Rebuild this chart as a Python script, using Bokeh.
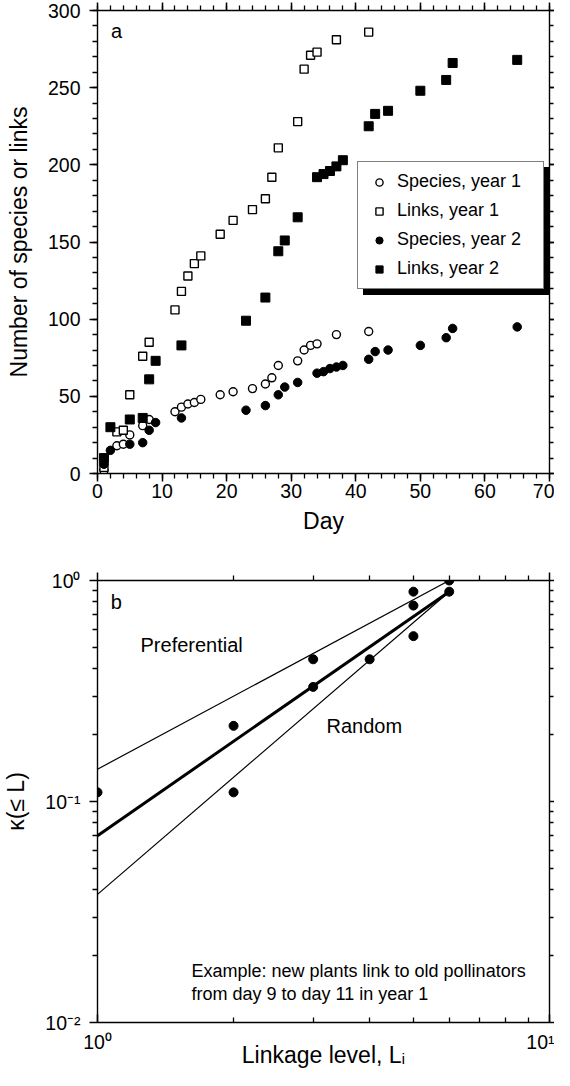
from bokeh.plotting import figure
from bokeh.models import (Range1d, LinearAxis, LogAxis, FixedTicker, SingleIntervalTicker,
                          Legend, LegendItem, Label, CustomJSTickFormatter)
from bokeh.layouts import column
from bokeh.embed import file_html
from bokeh.resources import INLINE

FONT = "Liberation Sans"

# ---------------- Panel a data ----------------
days_species_y1 = [1, 3, 4, 5, 7, 8, 12, 13, 14, 15, 16, 19, 21, 24, 26, 27, 28, 31, 32, 33, 34, 37, 42]
species_y1 = [2, 18, 19, 25, 31, 35, 40, 43, 45, 46, 48, 51, 53, 55, 58, 62, 70, 73, 80, 83, 84, 90, 92]

days_links_y1 = [1, 3, 4, 5, 7, 8, 12, 13, 14, 15, 16, 19, 21, 24, 26, 27, 28, 31, 32, 33, 34, 37, 42]
links_y1 = [4, 27, 28, 51, 76, 85, 106, 118, 128, 136, 141, 155, 164, 171, 178, 192, 211, 228, 262, 271, 273, 281, 286]

days_species_y2 = [1, 2, 5, 7, 8, 9, 13, 23, 26, 28, 29, 31, 34, 35, 36, 37, 38, 42, 43, 45, 50, 54, 55, 65]
species_y2 = [6, 15, 19, 20, 28, 33, 36, 41, 44, 51, 56, 59, 65, 66, 68, 69, 70, 74, 79, 80, 83, 88, 94, 95]

days_links_y2 = [1, 2, 5, 7, 8, 9, 13, 23, 26, 28, 29, 31, 34, 35, 36, 37, 38, 42, 43, 45, 50, 54, 55, 65]
links_y2 = [10, 30, 35, 36, 61, 73, 83, 99, 114, 144, 151, 166, 192, 194, 196, 199, 203, 225, 233, 235, 248, 255, 266, 268]

legend_labels = ["Species, year 1", "Links, year 1", "Species, year 2", "Links, year 2"]

# ---------------- Panel b data ----------------
linkage_level = [1, 2, 2, 3, 3, 4, 5, 5, 5, 6, 6]
kappa = [0.11, 0.22, 0.11, 0.44, 0.33, 0.44, 0.89, 0.77, 0.56, 1.0, 0.89]

fit_L = [1, 6]
kappa_fit = [0.07, 0.89]
kappa_preferential = [0.14, 1.0]
kappa_random = [0.038, 0.89]

x_major_b = [1, 10]
x_minor_b = [2, 3, 4, 5, 6, 7, 8, 9]
y_major_b = [0.01, 0.1, 1]
y_minor_b = [0.02, 0.03, 0.04, 0.05, 0.06, 0.07, 0.08, 0.09,
             0.2, 0.3, 0.4, 0.5, 0.6, 0.7, 0.8, 0.9]


def style_axis(ax, tick_out=True, label_size="19.5px", standoff=8):
    ax.axis_line_color = "black"
    ax.axis_line_width = 1.4
    ax.major_tick_line_color = "black"
    ax.major_tick_line_width = 1.5
    ax.minor_tick_line_color = "black"
    ax.minor_tick_line_width = 1.3
    if tick_out:
        ax.major_tick_out = 8
        ax.major_tick_in = 0
        ax.minor_tick_out = 5
        ax.minor_tick_in = 0
    else:
        ax.major_tick_out = 0
        ax.major_tick_in = 8
        ax.minor_tick_out = 0
        ax.minor_tick_in = 5
    ax.major_label_text_font = FONT
    ax.major_label_text_font_size = label_size
    ax.major_label_text_color = "black"
    ax.major_label_standoff = standoff
    ax.axis_label_text_font = FONT
    ax.axis_label_text_font_style = "normal"
    ax.axis_label_text_font_size = "23px"
    ax.axis_label_text_color = "black"


blank = CustomJSTickFormatter(code="return '';")

# ================= Panel a =================
pa = figure(width=554, height=552, x_range=Range1d(0, 70), y_range=Range1d(0, 300),
            output_backend="svg", toolbar_location=None,
            min_border_left=88, min_border_right=5, min_border_top=10, min_border_bottom=79)
pa.grid.visible = False
pa.outline_line_color = None
pa.background_fill_color = "white"

xt = SingleIntervalTicker(interval=10, num_minor_ticks=5)
yt = SingleIntervalTicker(interval=50, num_minor_ticks=5)
pa.xaxis.ticker = xt
pa.yaxis.ticker = yt
pa.xaxis.axis_label = "Day"
pa.yaxis.axis_label = "Number of species or links"
style_axis(pa.xaxis[0], standoff=2)
style_axis(pa.yaxis[0], standoff=9)
pa.xaxis.axis_label_standoff = 7
pa.yaxis.axis_label_standoff = 13

top_a = LinearAxis(ticker=xt, formatter=blank)
right_a = LinearAxis(ticker=yt, formatter=blank)
style_axis(top_a, standoff=0)
style_axis(right_a, standoff=0)
right_a.major_tick_out = 5
right_a.minor_tick_out = 4
pa.add_layout(top_a, "above")
pa.add_layout(right_a, "right")

r_s1 = pa.scatter(days_species_y1, species_y1, marker="circle", size=8,
                  fill_color="white", line_color="black", line_width=1.4)
r_l1 = pa.scatter(days_links_y1, links_y1, marker="square", size=8,
                  fill_color="white", line_color="black", line_width=1.4)
r_s2 = pa.scatter(days_species_y2, species_y2, marker="circle", size=8.5,
                  fill_color="black", line_color="black")
r_l2 = pa.scatter(days_links_y2, links_y2, marker="square", size=9,
                  fill_color="black", line_color="black")

# invisible renderer used only by the legend's drop shadow
r_blank = pa.scatter([], [], marker="circle", fill_alpha=0, line_alpha=0)

legend_kw = dict(margin=0, padding=5, spacing=0, glyph_width=32, glyph_height=18,
                 label_height=29, label_width=141, label_standoff=2,
                 label_text_font=FONT, label_text_font_size="18px",
                 border_line_width=1.5, border_line_color="black", background_fill_alpha=1.0)

shadow_legend = Legend(items=[LegendItem(label=" ", renderers=[r_blank]) for _ in legend_labels],
                       location=(266, 178), background_fill_color="black",
                       label_text_color="black", **legend_kw)
pa.add_layout(shadow_legend, "center")

legend = Legend(items=[LegendItem(label=legend_labels[0], renderers=[r_s1]),
                       LegendItem(label=legend_labels[1], renderers=[r_l1]),
                       LegendItem(label=legend_labels[2], renderers=[r_s2]),
                       LegendItem(label=legend_labels[3], renderers=[r_l2])],
                location=(260, 184), background_fill_color="white",
                label_text_color="black", **legend_kw)
pa.add_layout(legend, "center")

pa.add_layout(Label(x=2.1, y=287, text="a", text_font=FONT, text_font_size="20px",
                    text_color="black", text_baseline="middle", text_align="left"))

# ================= Panel b =================
pb = figure(width=554, height=518, x_axis_type="log", y_axis_type="log",
            x_range=Range1d(1, 10), y_range=Range1d(0.01, 1),
            output_backend="svg", toolbar_location=None,
            min_border_left=88, min_border_right=5, min_border_top=28, min_border_bottom=44)
pb.grid.visible = False
pb.outline_line_color = None

sup_fmt = CustomJSTickFormatter(code="""
const e = Math.round(Math.log10(tick));
const m = {'-':'\u207b','0':'\u2070','1':'\u00b9','2':'\u00b2','3':'\u00b3'};
return '10' + String(e).split('').map(c => m[c]).join('');
""")
bxt = FixedTicker(ticks=x_major_b, minor_ticks=x_minor_b)
byt = FixedTicker(ticks=y_major_b, minor_ticks=y_minor_b)
pb.xaxis.ticker = bxt
pb.yaxis.ticker = byt
pb.xaxis.formatter = sup_fmt
pb.yaxis.formatter = sup_fmt
pb.xaxis.axis_label = "Linkage level, L\u1d62"
pb.yaxis.axis_label = "\u03ba(\u2264 L)"
style_axis(pb.xaxis[0], tick_out=False, standoff=8)
style_axis(pb.yaxis[0], standoff=9)
pb.xaxis.axis_label_standoff = -14
pb.yaxis.axis_label_standoff = 13

top_b = LogAxis(ticker=bxt, formatter=blank)
right_b = LogAxis(ticker=byt, formatter=blank)
style_axis(top_b, standoff=0)
style_axis(right_b, standoff=0)
right_b.major_tick_out = 5
right_b.minor_tick_out = 4
pb.add_layout(top_b, "above")
pb.add_layout(right_b, "right")

pb.line(fit_L, kappa_preferential, line_color="black", line_width=1.2)
pb.line(fit_L, kappa_random, line_color="black", line_width=1.2)
pb.line(fit_L, kappa_fit, line_color="black", line_width=3)
pb.scatter(linkage_level, kappa, marker="circle", size=9, fill_color="black", line_color="black")

txt = dict(text_font=FONT, text_color="black", text_baseline="middle", text_align="left")
pb.add_layout(Label(x=1.07, y=0.8, text="b", text_font_size="20px", **txt))
pb.add_layout(Label(x=1.245, y=0.512, text="Preferential", text_font_size="20px", **txt))
pb.add_layout(Label(x=3.21, y=0.22, text="Random", text_font_size="20px", **txt))
pb.add_layout(Label(x=1.614, y=0.0171, text="Example: new plants link to old pollinators",
                    text_font_size="18px", **txt))
pb.add_layout(Label(x=1.614, y=0.0135, text="from day 9 to day 11 in year 1",
                    text_font_size="18px", **txt))

layout = column(pa, pb, spacing=0)
open("out.html", "w").write(file_html(layout, INLINE))
